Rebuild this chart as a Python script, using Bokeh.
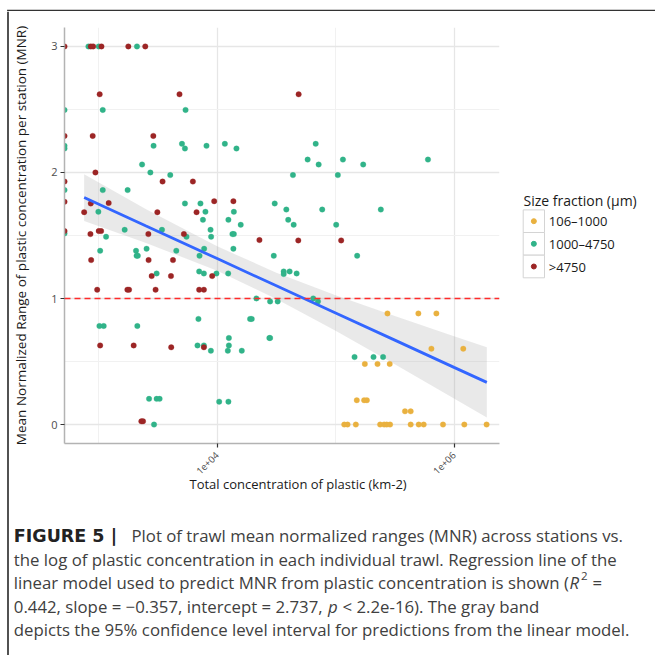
import math
import numpy as np
from bokeh.plotting import figure
from bokeh.models import Range1d, FixedTicker, CustomJSTickFormatter, Span, Title
from bokeh.layouts import column, row
from bokeh.embed import file_html
from bokeh.resources import INLINE
from bokeh.core.properties import value

# ---------------- data ----------------
size_fractions = ["106–1000", "1000–4750", ">4750"]
colors = ["#e9b13f", "#31b389", "#9c2525"]

# log10 of total plastic concentration (km-2) and MNR, per size fraction
log_conc_small = [5.438, 5.699, 5.851, 5.809, 6.078, 5.247, 5.354, 5.457, 5.179, 5.241,
                  5.264, 5.586, 5.634, 5.073, 5.101, 5.171, 5.376, 5.410, 5.432, 5.460,
                  5.634, 5.702, 5.744, 5.907, 6.087, 6.275]
mnr_small = [0.882, 0.882, 0.882, 0.602, 0.602, 0.481, 0.481, 0.481, 0.193, 0.193,
             0.193, 0.105, 0.105, 0.0, 0.0, 0.0, 0.0, 0.0, 0.0, 0.0,
             0.0, 0.0, 0.0, 0.0, 0.0, 0.0]

log_conc_mid = [2.711, 2.711, 2.711, 2.711, 2.711, 2.913, 3.000, 3.323, 3.034, 3.733,
                3.463, 3.703, 3.728, 3.910, 4.065, 4.163, 4.832, 3.366, 4.764, 4.857,
                5.062, 5.233, 5.780, 3.436, 3.604, 4.640, 5.019, 3.034, 3.244, 3.728,
                3.859, 4.486, 4.584, 4.887, 5.382, 4.600, 3.880, 4.095, 2.997, 3.901,
                4.141, 4.199, 4.646, 5.005, 3.219, 3.534, 3.944, 3.062, 3.741, 3.949,
                4.129, 4.141, 5.182, 3.012, 3.315, 3.655, 3.320, 3.330, 3.404, 3.851,
                3.890, 4.137, 4.478, 3.489, 3.848, 3.888, 3.994, 4.093, 4.562, 4.562,
                4.612, 4.671, 4.331, 4.447, 4.511, 4.811, 4.851, 3.006, 3.042, 3.326,
                3.842, 4.278, 4.292, 4.441, 4.447, 3.834, 3.888, 3.947, 4.099, 4.099,
                4.090, 4.208, 5.160, 5.320, 5.401, 3.425, 3.489, 3.514, 4.017, 4.095,
                3.467]
mnr_mid = [2.496, 2.211, 2.190, 1.860, 1.516, 3.0, 3.0, 3.0, 2.496, 2.496,
           2.211, 2.227, 2.190, 2.211, 2.227, 2.190, 2.227, 2.063, 2.102, 2.063,
           2.102, 2.063, 2.102, 2.000, 1.979, 1.979, 1.979, 1.860, 1.860, 1.754,
           1.754, 1.754, 1.706, 1.706, 1.706, 1.624, 1.624, 1.624, 1.688, 1.688,
           1.688, 1.585, 1.585, 1.585, 1.545, 1.545, 1.545, 1.490, 1.490, 1.490,
           1.511, 1.511, 1.339, 1.379, 1.379, 1.379, 1.339, 1.339, 1.395, 1.339,
           1.395, 1.395, 1.339, 1.199, 1.215, 1.199, 1.199, 1.199, 1.215, 1.194,
           1.215, 1.199, 1.001, 0.977, 0.977, 1.001, 0.977, 0.782, 0.782, 0.782,
           0.838, 0.838, 0.838, 0.687, 0.687, 0.628, 0.628, 0.586, 0.687, 0.628,
           0.586, 0.586, 0.536, 0.536, 0.536, 0.204, 0.204, 0.204, 0.182, 0.182,
           0.0]

log_conc_large = [2.711, 2.711, 2.711, 2.711, 2.711, 2.933, 2.953, 3.023, 3.250, 3.393,
                  3.008, 3.682, 4.688, 2.949, 3.461, 2.972, 3.539, 3.795, 2.933, 3.084,
                  3.975, 4.137, 2.877, 3.495, 3.826, 3.000, 3.020, 2.930, 3.419, 3.719,
                  4.357, 4.685, 5.047, 2.936, 3.421, 3.627, 3.447, 3.610, 3.958, 2.987,
                  3.242, 3.256, 3.480, 3.848, 3.888, 3.012, 3.295, 3.612, 3.888, 3.360,
                  3.374]
mnr_large = [3.0, 2.290, 1.928, 1.767, 1.535, 3.0, 3.0, 3.0, 3.0, 3.0,
             2.620, 2.620, 2.620, 2.290, 2.290, 2.000, 1.928, 1.928, 1.754, 1.757,
             1.772, 1.772, 1.685, 1.685, 1.685, 1.535, 1.535, 1.511, 1.511, 1.511,
             1.464, 1.461, 1.461, 1.305, 1.305, 1.305, 1.178, 1.178, 1.178, 1.070,
             1.070, 1.070, 1.070, 1.070, 1.070, 0.628, 0.628, 0.613, 0.613, 0.026,
             0.026]

# linear model fit and 95% band
fit_log_conc = [2.877, 3.4, 4.0, 4.5, 5.0, 5.5, 6.0, 6.277]
fit_mnr = [1.801, 1.575, 1.317, 1.101, 0.886, 0.670, 0.454, 0.335]
fit_lower = [1.616, 1.441, 1.220, 0.997, 0.745, 0.478, 0.207, 0.056]
fit_upper = [1.986, 1.709, 1.414, 1.205, 1.027, 0.862, 0.701, 0.614]

reference_mnr = 1.0
x_major_ticks = [1e4, 1e6]
x_minor_ticks = [1e3, 1e5]
y_major_ticks = [0, 1, 2, 3]
y_minor_ticks = [0.5, 1.5, 2.5]

x_title = "Total concentration of plastic (km-2)"
y_title = "Mean Normalized Range of plastic concentration per station (MNR)"
legend_title = "Size fraction (µm)"

AX_FONT = "Open Sans"
CAP_FONT = "Open Sans"
CAP_BOLD_FONT = "DejaVu Sans"

MAIN_W, MAIN_H = 506, 507
B_LEFT, B_RIGHT, B_TOP, B_BOTTOM = 54, 16, 16, 75

# ---------------- main plot ----------------
p = figure(width=MAIN_W, height=MAIN_H, x_axis_type="log",
           x_range=Range1d(10 ** 2.711, 10 ** 6.384), y_range=Range1d(-0.15, 3.15),
           output_backend="svg", toolbar_location=None,
           min_border_left=B_LEFT, min_border_right=B_RIGHT,
           min_border_top=B_TOP, min_border_bottom=B_BOTTOM)
p.outline_line_color = None
p.background_fill_color = "white"

p.xaxis.ticker = FixedTicker(ticks=x_major_ticks, minor_ticks=x_minor_ticks)
p.yaxis.ticker = FixedTicker(ticks=y_major_ticks, minor_ticks=y_minor_ticks)
p.xaxis.formatter = CustomJSTickFormatter(code="return tick.toExponential(0).replace('e+', 'e+0');")
p.xaxis.major_label_orientation = math.pi / 4

for ax in (p.xaxis, p.yaxis):
    ax.axis_line_color = "#b3b3b3"
    ax.axis_line_width = 1.5
    ax.major_tick_line_color = "#333333"
    ax.major_tick_line_width = 1.2
    ax.major_tick_out = 4
    ax.major_tick_in = 0
    ax.minor_tick_line_color = None
    ax.major_label_text_font = AX_FONT
    ax.major_label_text_color = "#4d4d4d"
    ax.axis_label_text_font = AX_FONT
    ax.axis_label_text_font_style = "normal"
    ax.axis_label_text_color = "#1a1a1a"

p.yaxis.major_label_text_font_size = "11px"
p.yaxis.major_label_standoff = 3
p.yaxis.axis_label = y_title
p.yaxis.axis_label_text_font_size = "13.5px"
p.yaxis.axis_label_standoff = 18
p.xaxis.major_label_text_font_size = "9.5px"
p.xaxis.major_label_standoff = 6

# x-axis title placed under the axis, offset from the frame's left edge as in the reference
p.add_layout(Title(text=x_title, align="left", offset=125, vertical_align="top",
                   standoff=-12, text_font=AX_FONT, text_font_size="13px",
                   text_font_style="normal", text_color="#1a1a1a"), "below")

for g in (p.xgrid, p.ygrid):
    g.grid_line_color = "#e6e6e6"
    g.grid_line_width = 1.3
    g.minor_grid_line_color = "#f1f1f1"
    g.minor_grid_line_width = 1.0

fx = 10 ** np.array(fit_log_conc)
p.varea(x=fx, y1=fit_lower, y2=fit_upper, fill_color="#999999", fill_alpha=0.22)

groups = [(log_conc_small, mnr_small), (log_conc_mid, mnr_mid), (log_conc_large, mnr_large)]
for (lc, m), c in zip(groups, colors):
    p.scatter(x=10 ** np.array(lc), y=m, size=5.5, fill_color=c, line_color=c, line_width=0.3)

p.add_layout(Span(location=reference_mnr, dimension="width", line_color="#ff2b2b",
                  line_dash="6 4", line_width=1.5))
p.line(x=fx, y=fit_mnr, line_color="#3366ff", line_width=2.8)


# ---------------- helper pixel figures ----------------
def pixel_fig(w, h, top=0, bottom=0):
    # data units == pixels; y grows downward; frame spans [top, h - bottom]
    f = figure(width=w, height=h, x_range=Range1d(0, w), y_range=Range1d(h - bottom, top),
               x_axis_location=None, y_axis_location=None, toolbar_location=None,
               output_backend="svg", min_border=0,
               min_border_top=top, min_border_bottom=bottom,
               min_border_left=0, min_border_right=0)
    f.outline_line_color = None
    f.grid.visible = False
    return f


FRAME = "#333333"
top_strip = pixel_fig(655, 11)
top_strip.segment(x0=[6.6], y0=[9.2], x1=[655], y1=[9.2], line_color=FRAME, line_width=1.7)
top_strip.segment(x0=[7.5], y0=[9.2], x1=[7.5], y1=[11], line_color=FRAME, line_width=1.7)

left_strip = pixel_fig(9, 644)
left_strip.segment(x0=[7.5], y0=[0], x1=[7.5], y1=[644], line_color=FRAME, line_width=1.7)

# legend (same top/bottom borders as the main plot, since frames in a row are aligned)
legend_fig = pixel_fig(140, MAIN_H, top=B_TOP, bottom=B_BOTTOM)
row_y = [209.7, 232.3, 255.0]
legend_fig.rect(x=[18.35] * 3, y=row_y, width=21.3, height=22.6,
                fill_color="white", line_color="#d4d4d4", line_width=1)
legend_fig.scatter(x=[18.35] * 3, y=row_y, size=5, color=colors)
legend_fig.text(x=[33.3] * 3, y=row_y, text=size_fractions, text_baseline="middle",
                text_font=value(AX_FONT), text_font_size="13px", text_color="#1a1a1a")
legend_fig.text(x=[8], y=[189.3], text=[legend_title], text_baseline="alphabetic",
                text_font=value(AX_FONT), text_font_size="14px", text_color="#1a1a1a")

# caption
caption = pixel_fig(646, 137)
b = [17, 40.6, 64.2, 87.8, 111.4]
CS = "16.8px"
CC = "#404040"
segments = [
    (4.3, b[0], "FIGURE 5 |", CAP_BOLD_FONT, "bold", "17.5px", "#222222"),
    (122, b[0], "Plot of trawl mean normalized ranges (MNR) across stations vs.", CAP_FONT, "normal", CS, CC),
    (4.3, b[1], "the log of plastic concentration in each individual trawl. Regression line of the", CAP_FONT, "normal", CS, CC),
    (4.3, b[2], "linear model used to predict MNR from plastic concentration is shown (", CAP_FONT, "normal", CS, CC),
    (560, b[2], "R", CAP_FONT, "italic", CS, CC),
    (571.5, b[2] - 6.5, "2", CAP_FONT, "normal", "11.5px", CC),
    (583, b[2], "=", CAP_FONT, "normal", CS, CC),
    (4.3, b[3], "0.442, slope = −0.357, intercept = 2.737,", CAP_FONT, "normal", CS, CC),
    (318.5, b[3], "p", CAP_FONT, "italic", CS, CC),
    (333, b[3], "< 2.2e-16). The gray band", CAP_FONT, "normal", CS, CC),
    (4.3, b[4], "depicts the 95% confidence level interval for predictions from the linear model.", CAP_FONT, "normal", CS, CC),
]
for x0, y0, t, font, style, size, col in segments:
    caption.text(x=[x0], y=[y0], text=[t], text_baseline="alphabetic", text_align="left",
                 text_font=value(font), text_font_style=style, text_font_size=size,
                 text_color=col)

layout = column(top_strip, row(left_strip, column(row(p, legend_fig), caption)))

open("out.html", "w").write(file_html(layout, INLINE))
